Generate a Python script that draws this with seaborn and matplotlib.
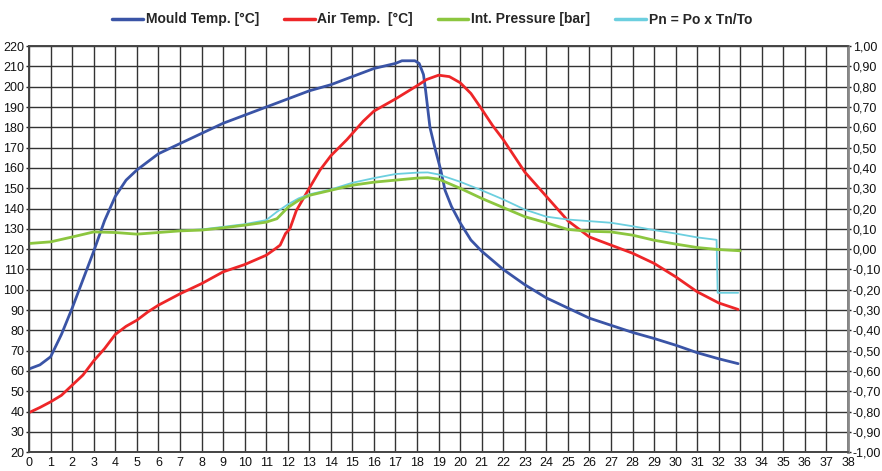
import numpy as np
import matplotlib
matplotlib.use("Agg")
import matplotlib.pyplot as plt
import matplotlib.ticker as mticker
import seaborn as sns
import pandas as pd

# Mould temperature [°C] (left axis)
mould_x = [0, 0.5, 1, 1.5, 2, 2.5, 3, 3.5, 4, 4.5, 5, 5.5, 6, 7, 8, 9, 10, 11, 12, 13,
           14, 15, 16, 17, 17.3, 17.9, 18.1, 18.3, 18.4, 18.6, 18.85, 19.1, 19.3, 19.6,
           20, 20.5, 21, 22, 23, 24, 25, 26, 27, 28, 29, 30, 31, 32, 32.9]
mould_y = [61, 63, 67, 78, 91, 105, 119, 134, 146, 154, 159, 163, 167, 172, 177, 182, 186, 190, 194, 198,
           201, 205, 209, 211.5, 212.8, 212.8, 211.5, 206, 198, 180, 169, 159, 149, 141,
           133, 124.5, 119, 110, 102.5, 96, 91, 86, 82.5, 79, 76, 72.7, 69, 66, 63.6]

# Air temperature [°C] (left axis)
air_x = [0, 0.5, 1, 1.5, 2, 2.5, 3, 3.5, 4, 4.5, 5, 5.5, 6, 7, 8, 9, 10, 11, 11.4, 11.65,
         11.9, 12.1, 12.4, 13, 13.5, 14, 14.75, 15.5, 16, 17, 18, 18.45, 19, 19.5, 20, 20.5,
         21, 21.5, 22, 23, 24, 25, 26, 27, 28, 29, 30, 31, 32, 32.9]
air_y = [39.5, 42, 44.8, 48, 53, 58, 65, 71, 78, 82, 85, 89, 92.4, 98, 103, 108.8, 112.4, 117, 120, 122,
         127.7, 130, 139, 150, 159, 166, 174, 183, 188, 194, 200.5, 203.6, 205.7, 205, 202, 196.7,
         189, 181, 174, 158, 146, 134, 126, 122, 118, 113, 106.4, 99, 93.5, 90.3]

# Internal pressure [bar] (right axis)
press_x = [0, 1, 2, 3, 4, 5, 6, 7, 8, 9, 10, 11, 11.5, 12, 12.5, 13, 14, 15, 16, 17, 18,
           18.5, 19, 20, 21, 22, 23, 24, 25, 26, 27, 28, 29, 30, 31, 32, 33]
press_y = [0.028, 0.036, 0.06, 0.085, 0.082, 0.074, 0.082, 0.09, 0.094, 0.105, 0.118, 0.133, 0.150,
           0.205, 0.24, 0.265, 0.29, 0.315, 0.33, 0.34, 0.35, 0.352, 0.345, 0.30, 0.25, 0.205,
           0.16, 0.13, 0.097, 0.088, 0.085, 0.069, 0.044, 0.025, 0.008, -0.002, -0.008]

# Pn = Po x Tn/To (right axis)
pn_x = [6.8, 8, 9, 10, 11, 11.5, 12, 12.5, 13, 14, 15, 16, 17, 18, 18.5, 19, 20, 21, 22, 23,
        24, 25, 26, 27, 28, 29, 30, 31, 31.9, 31.95, 32.9]
pn_y = [0.09, 0.097, 0.11, 0.123, 0.143, 0.184, 0.22, 0.25, 0.27, 0.294, 0.327, 0.35, 0.37,
        0.377, 0.378, 0.368, 0.332, 0.29, 0.245, 0.195, 0.16, 0.146, 0.138, 0.13, 0.113,
        0.094, 0.077, 0.058, 0.046, -0.215, -0.215]

x_ticks = list(range(0, 39))
left_ticks = list(range(20, 221, 10))
right_ticks = [round(v, 1) for v in np.arange(-1.0, 1.01, 0.1)]

sns.set_style("white")
plt.rcParams['font.family'] = ['Liberation Sans', 'DejaVu Sans']

fig, ax = plt.subplots(figsize=(8.82, 4.71), dpi=100)
fig.subplots_adjust(left=0.033, right=0.9615, top=0.902, bottom=0.04)
ax2 = ax.twinx()

c_blue, c_red, c_green, c_cyan = '#3a54a6', '#ee2628', '#8cc63f', '#6ccfdf'

df_m = pd.DataFrame({'x': mould_x, 'y': mould_y})
df_a = pd.DataFrame({'x': air_x, 'y': air_y})
df_p = pd.DataFrame({'x': press_x, 'y': press_y})
df_n = pd.DataFrame({'x': pn_x, 'y': pn_y})

sns.lineplot(data=df_m, x='x', y='y', ax=ax, color=c_blue, lw=2.0, sort=False)
sns.lineplot(data=df_a, x='x', y='y', ax=ax, color=c_red, lw=2.0, sort=False)
sns.lineplot(data=df_n, x='x', y='y', ax=ax2, color=c_cyan, lw=1.3, sort=False)
sns.lineplot(data=df_p, x='x', y='y', ax=ax2, color=c_green, lw=2.0, sort=False)

ax.set_xlim(0, 38)
ax.set_ylim(20, 220)
ax2.set_ylim(-1.0, 1.0)
ax.set_xticks(x_ticks)
ax.set_yticks(left_ticks)
ax2.set_yticks(right_ticks)
ax2.yaxis.set_major_formatter(mticker.FuncFormatter(lambda v, p: f"{v:.2f}".replace('.', ',').replace('-0,00', '0,00')))

for a in (ax, ax2):
    a.set_xlabel('')
    a.set_ylabel('')
    a.tick_params(labelsize=9, length=2.5, width=1, pad=1, color='#222222', labelcolor='#111111')
    for s in a.spines.values():
        s.set_color('#444444')
        s.set_linewidth(1.2)
ax2.spines['right'].set_color('#888888')
ax2.spines['right'].set_linewidth(2)

ax.grid(True, color='#333333', lw=1.0)
ax.set_axisbelow(True)

handles = [
    plt.Line2D([], [], color=c_blue, lw=2.5),
    plt.Line2D([], [], color=c_red, lw=2.5),
    plt.Line2D([], [], color=c_green, lw=2.5),
    plt.Line2D([], [], color=c_cyan, lw=2.5),
]
labels = ['Mould Temp. [°C]', 'Air Temp.  [°C]', 'Int. Pressure [bar]', 'Pn = Po x Tn/To']
fig.legend(handles, labels, loc='upper center', bbox_to_anchor=(0.49, 1.0), ncol=4,
           frameon=False, prop={'weight': 'bold', 'size': 10}, handlelength=2.2,
           handletextpad=0.2, columnspacing=1.8)

fig.savefig('out.png', dpi=100)
